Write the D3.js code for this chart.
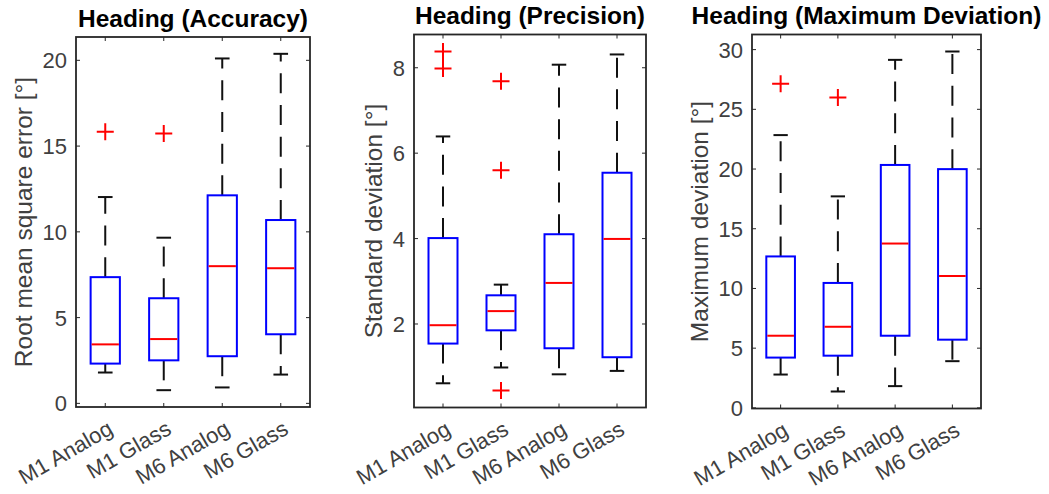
<!DOCTYPE html>
<html>
<head>
<meta charset="utf-8">
<script src="https://cdn.jsdelivr.net/npm/d3@7"></script>
<style>
  html, body { margin: 0; padding: 0; background: #fff; }
  svg { display: block; }
  text { font-family: "Liberation Sans", Arial, sans-serif; }
</style>
</head>
<body>
<svg id="chart" width="1049" height="494"></svg>
<script>
// Groups compared in every panel
const groups = ["M1 Analog", "M1 Glass", "M6 Analog", "M6 Glass"];

// Heading accuracy: RMS error [°]
const accLow  = [1.77, 0.74, 0.90, 1.65];
const accQ1   = [2.29, 2.48, 2.72, 4.00];
const accMed  = [3.41, 3.72, 7.97, 7.85];
const accQ3   = [7.33, 6.10, 12.10, 10.66];
const accHigh = [12.00, 9.63, 20.08, 20.35];
const accOut  = [[15.8], [15.7], [], []];
const accTicks = [0, 5, 10, 15, 20];

// Heading precision: standard deviation [°]
const precLow  = [0.60, 0.97, 0.81, 0.89];
const precQ1   = [1.53, 1.84, 1.42, 1.21];
const precMed  = [1.96, 2.29, 2.95, 3.98];
const precQ3   = [4.00, 2.66, 4.09, 5.53];
const precHigh = [6.38, 2.91, 8.06, 8.30];
const precOut  = [[8.37, 7.97], [7.67, 5.59, 0.43], [], []];
const precTicks = [2, 4, 6, 8];

// Heading maximum deviation [°]
const maxLow  = [2.75, 1.33, 1.78, 3.87];
const maxQ1   = [4.17, 4.33, 6.00, 5.67];
const maxMed  = [6.00, 6.75, 13.72, 11.00];
const maxQ3   = [12.64, 10.42, 20.30, 19.95];
const maxHigh = [22.80, 17.67, 29.10, 29.80];
const maxOut  = [[27.1], [25.95], [], []];
const maxTicks = [0, 5, 10, 15, 20, 25, 30];

const panels = [
  { title: "Heading (Accuracy)", ylabel: "Root mean square error [°]",
    low: accLow, q1: accQ1, med: accMed, q3: accQ3, high: accHigh, out: accOut, ticks: accTicks,
    box: { left: 76, right: 310, top: 37, bottom: 407 } },
  { title: "Heading (Precision)", ylabel: "Standard deviation [°]",
    low: precLow, q1: precQ1, med: precMed, q3: precQ3, high: precHigh, out: precOut, ticks: precTicks,
    box: { left: 414, right: 646, top: 34.5, bottom: 407.5 } },
  { title: "Heading (Maximum Deviation)", ylabel: "Maximum deviation [°]",
    low: maxLow, q1: maxQ1, med: maxMed, q3: maxQ3, high: maxHigh, out: maxOut, ticks: maxTicks,
    box: { left: 752, right: 981, top: 34.5, bottom: 408.5 } }
];

const axisColor = "#262626";
const textColor = "#404040";
const svg = d3.select("#chart");

panels.forEach(p => {
  const b = p.box;
  const g = svg.append("g");

  // y range padded by 5% of the data span on each side
  const all = [...p.low, ...p.high, ...p.out.flat()];
  const lo = d3.min(all), hi = d3.max(all), pad = (hi - lo) * 0.05;
  const y = d3.scaleLinear().domain([lo - pad, hi + pad]).range([b.bottom, b.top]);
  const x = d3.scaleBand().domain(groups).range([b.left, b.right]).padding(0);
  const bw = x.bandwidth();
  const cx = i => x(groups[i]) + bw / 2;
  const boxW = bw * 0.5, capW = boxW * 0.5;

  // axes frame with inward ticks on all four sides
  const yl = g.append("g").attr("transform", `translate(${b.left},0)`)
    .call(d3.axisLeft(y).tickValues(p.ticks).tickSize(-4).tickPadding(9).tickFormat(d3.format("d")));
  g.append("g").attr("transform", `translate(${b.right},0)`)
    .call(d3.axisRight(y).tickValues(p.ticks).tickSize(-4).tickFormat(""));
  const xl = g.append("g").attr("transform", `translate(0,${b.bottom})`)
    .call(d3.axisBottom(x).tickSize(-4));
  g.append("g").attr("transform", `translate(0,${b.top})`)
    .call(d3.axisTop(x).tickSize(-4).tickFormat(""));
  g.selectAll(".domain").remove();
  g.selectAll(".tick line").attr("stroke", axisColor).attr("stroke-width", 1);

  yl.selectAll("text").attr("fill", textColor).style("font-size", "22px")
    .attr("dy", "0.36em");
  xl.selectAll("text").attr("fill", textColor).style("font-size", "22px")
    .attr("x", 0).attr("y", 0).attr("dy", null)
    .attr("transform", "translate(9,26) rotate(-30)")
    .style("text-anchor", "end");

  g.append("rect")
    .attr("x", b.left).attr("y", b.top)
    .attr("width", b.right - b.left).attr("height", b.bottom - b.top)
    .attr("fill", "none").attr("stroke", axisColor).attr("stroke-width", 1.8);

  // title
  g.append("text")
    .attr("x", (b.left + b.right) / 2).attr("y", b.top - 10.5)
    .attr("text-anchor", "middle")
    .style("font-size", "24.5px").style("font-weight", "bold")
    .attr("fill", "#000")
    .text(p.title);

  // y label placed clear of the tick labels
  const tickW = d3.max(yl.selectAll("text").nodes(), n => n.getBBox().width);
  const lx = b.left - 9 - tickW - 10.5;
  g.append("text")
    .attr("transform", `translate(${lx},${(b.top + b.bottom) / 2}) rotate(-90)`)
    .attr("text-anchor", "middle")
    .style("font-size", "24.5px")
    .attr("fill", textColor)
    .text(p.ylabel);

  const idx = d3.range(groups.length);
  const marks = g.append("g");

  // whiskers, dashed from the box outward
  marks.selectAll(".wup").data(idx).join("line")
    .attr("x1", cx).attr("x2", cx)
    .attr("y1", i => y(p.q3[i])).attr("y2", i => y(p.high[i]))
    .attr("stroke", "#111").attr("stroke-width", 2).attr("stroke-dasharray", "20,11.7");
  marks.selectAll(".wdn").data(idx).join("line")
    .attr("x1", cx).attr("x2", cx)
    .attr("y1", i => y(p.q1[i])).attr("y2", i => y(p.low[i]))
    .attr("stroke", "#111").attr("stroke-width", 2).attr("stroke-dasharray", "20,11.7");

  // whisker caps
  ["high", "low"].forEach(k => {
    marks.append("g").selectAll("line").data(idx).join("line")
      .attr("x1", i => cx(i) - capW / 2).attr("x2", i => cx(i) + capW / 2)
      .attr("y1", i => y(p[k][i])).attr("y2", i => y(p[k][i]))
      .attr("stroke", "#111").attr("stroke-width", 2);
  });

  // boxes
  marks.append("g").selectAll("rect").data(idx).join("rect")
    .attr("x", i => cx(i) - boxW / 2).attr("width", boxW)
    .attr("y", i => y(p.q3[i])).attr("height", i => y(p.q1[i]) - y(p.q3[i]))
    .attr("fill", "none").attr("stroke", "#0000ff").attr("stroke-width", 2);

  // medians
  marks.append("g").selectAll("line").data(idx).join("line")
    .attr("x1", i => cx(i) - boxW / 2 + 1).attr("x2", i => cx(i) + boxW / 2 - 1)
    .attr("y1", i => y(p.med[i])).attr("y2", i => y(p.med[i]))
    .attr("stroke", "#ff0000").attr("stroke-width", 2);

  // outliers as red plus markers
  const outs = p.out.flatMap((vals, i) => vals.map(v => ({ i, v })));
  const s = 8.5;
  marks.append("g").selectAll("path").data(outs).join("path")
    .attr("d", d => {
      const px = cx(d.i), py = y(d.v);
      return `M${px - s},${py}H${px + s}M${px},${py - s}V${py + s}`;
    })
    .attr("stroke", "#ff0000").attr("stroke-width", 2).attr("fill", "none");
});
</script>
</body>
</html>
